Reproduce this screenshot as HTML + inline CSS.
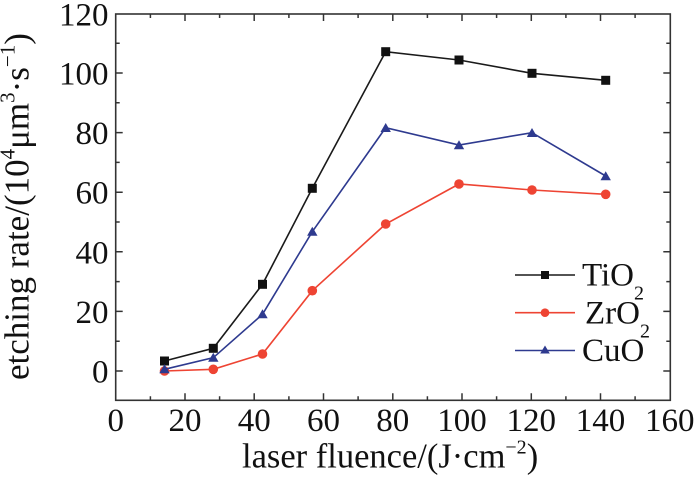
<!DOCTYPE html>
<html>
<head>
<meta charset="utf-8">
<style>
  html, body { margin:0; padding:0; background:#ffffff; }
  svg { display:block; }
  text { font-family: "Liberation Serif", "DejaVu Serif", serif; fill:#111; }
</style>
</head>
<body>
<svg width="700" height="477" viewBox="0 0 700 477" xmlns="http://www.w3.org/2000/svg">
  <rect x="0" y="0" width="700" height="477" fill="#ffffff"/>

  <!-- ticks -->
  <g stroke="#333" stroke-width="1.5" fill="none">
    <!-- x major bottom/top -->
    <path d="M185.0,400.3v-7 M254.2,400.3v-7 M323.5,400.3v-7 M392.8,400.3v-7 M462.0,400.3v-7 M531.3,400.3v-7 M600.5,400.3v-7
             M185.0,14v7 M254.2,14v7 M323.5,14v7 M392.8,14v7 M462.0,14v7 M531.3,14v7 M600.5,14v7"/>
    <!-- x minor bottom/top -->
    <path d="M150.4,400.3v-4 M219.6,400.3v-4 M288.9,400.3v-4 M358.1,400.3v-4 M427.4,400.3v-4 M496.6,400.3v-4 M565.9,400.3v-4 M635.1,400.3v-4
             M150.4,14v4 M219.6,14v4 M288.9,14v4 M358.1,14v4 M427.4,14v4 M496.6,14v4 M565.9,14v4 M635.1,14v4"/>
    <!-- y major left/right -->
    <path d="M115.7,371h7 M115.7,311.4h7 M115.7,251.8h7 M115.7,192.2h7 M115.7,132.6h7 M115.7,73h7
             M670.3,371h-7 M670.3,311.4h-7 M670.3,251.8h-7 M670.3,192.2h-7 M670.3,132.6h-7 M670.3,73h-7"/>
    <!-- y minor left/right -->
    <path d="M115.7,341.2h4 M115.7,281.6h4 M115.7,222h4 M115.7,162.4h4 M115.7,102.8h4 M115.7,43.2h4
             M670.3,341.2h-4 M670.3,281.6h-4 M670.3,222h-4 M670.3,162.4h-4 M670.3,102.8h-4 M670.3,43.2h-4"/>
  </g>
  <rect x="115.7" y="14" width="554.6" height="386.3" fill="none" stroke="#333" stroke-width="1.6"/>

  <!-- y tick labels -->
  <g font-size="33" text-anchor="end">
    <text x="108.5" y="382.5">0</text>
    <text x="108.5" y="322.9">20</text>
    <text x="108.5" y="263.3">40</text>
    <text x="108.5" y="203.7">60</text>
    <text x="108.5" y="144.1">80</text>
    <text x="108.5" y="84.5">100</text>
    <text x="108.5" y="25.5">120</text>
  </g>
  <!-- x tick labels -->
  <g font-size="33" text-anchor="middle">
    <text x="115.8" y="431">0</text>
    <text x="185.0" y="431">20</text>
    <text x="254.2" y="431">40</text>
    <text x="323.5" y="431">60</text>
    <text x="392.8" y="431">80</text>
    <text x="462.0" y="431">100</text>
    <text x="531.3" y="431">120</text>
    <text x="600.5" y="431">140</text>
    <text x="669.8" y="431">160</text>
  </g>

  <!-- axis titles -->
  <text x="242" y="467.5" font-size="34.5">laser fluence/(J·cm<tspan font-size="20" dy="-14">−2</tspan><tspan dy="14">)</tspan></text>
  <text transform="translate(28.5,380) rotate(-90)" x="0" y="0" font-size="35">etching rate/(10<tspan font-size="21" dy="-14">4</tspan><tspan dy="14">μm</tspan><tspan font-size="21" dy="-14">3</tspan><tspan dy="14">·s</tspan><tspan font-size="21" dy="-14">−1</tspan><tspan dy="14">)</tspan></text>

  <!-- TiO2 series -->
  <polyline fill="none" stroke="#1a1a1a" stroke-width="1.6"
    points="164.5,361 213.3,348.3 262.5,284.3 312.3,188.3 385.7,51.7 459,60 532,73.3 605.7,80.3"/>
  <g fill="#111">
    <rect x="160" y="356.5" width="9" height="9"/>
    <rect x="208.8" y="343.8" width="9" height="9"/>
    <rect x="258" y="279.8" width="9" height="9"/>
    <rect x="307.8" y="183.8" width="9" height="9"/>
    <rect x="381.2" y="47.2" width="9" height="9"/>
    <rect x="454.5" y="55.5" width="9" height="9"/>
    <rect x="527.5" y="68.8" width="9" height="9"/>
    <rect x="601.2" y="75.8" width="9" height="9"/>
  </g>

  <!-- ZrO2 series -->
  <polyline fill="none" stroke="#ee4433" stroke-width="1.6"
    points="164.5,371 213.3,369.3 262.5,354 312.3,290.7 385.7,224 459,184 532,190 605.7,194.3"/>
  <g fill="#ee4433">
    <circle cx="164.5" cy="371" r="4.8"/>
    <circle cx="213.3" cy="369.3" r="4.8"/>
    <circle cx="262.5" cy="354" r="4.8"/>
    <circle cx="312.3" cy="290.7" r="4.8"/>
    <circle cx="385.7" cy="224" r="4.8"/>
    <circle cx="459" cy="184" r="4.8"/>
    <circle cx="532" cy="190" r="4.8"/>
    <circle cx="605.7" cy="194.3" r="4.8"/>
  </g>

  <!-- CuO series -->
  <polyline fill="none" stroke="#2e3a8f" stroke-width="1.6"
    points="164.5,369.3 213.3,357.7 262.5,314.3 312.3,231.7 385.7,127.7 459,145 532,132.7 605.7,176"/>
  <g fill="#2e3a8f">
    <path d="M164.5,364.3 l5.2,9 h-10.4z"/>
    <path d="M213.3,352.7 l5.2,9 h-10.4z"/>
    <path d="M262.5,309.3 l5.2,9 h-10.4z"/>
    <path d="M312.3,226.7 l5.2,9 h-10.4z"/>
    <path d="M385.7,123 l5.2,9 h-10.4z"/>
    <path d="M459,140.3 l5.2,9 h-10.4z"/>
    <path d="M532,128 l5.2,9 h-10.4z"/>
    <path d="M605.7,171.3 l5.2,9 h-10.4z"/>
  </g>

  <!-- legend -->
  <line x1="515" y1="275" x2="575" y2="275" stroke="#1a1a1a" stroke-width="1.6"/>
  <rect x="541" y="271" width="8" height="8" fill="#111"/>
  <line x1="515" y1="312.7" x2="575" y2="312.7" stroke="#ee4433" stroke-width="1.6"/>
  <circle cx="545" cy="312.7" r="4.3" fill="#ee4433"/>
  <line x1="515" y1="350.5" x2="575" y2="350.5" stroke="#2e3a8f" stroke-width="1.6"/>
  <path d="M545,345.5 l4.8,8 h-9.6z" fill="#2e3a8f"/>

  <g font-size="33">
    <text x="582" y="285.5">TiO<tspan font-size="20" dy="14">2</tspan></text>
    <text x="585" y="323.5">ZrO<tspan font-size="20" dy="14">2</tspan></text>
    <text x="582" y="361">CuO</text>
  </g>
</svg>
</body>
</html>
